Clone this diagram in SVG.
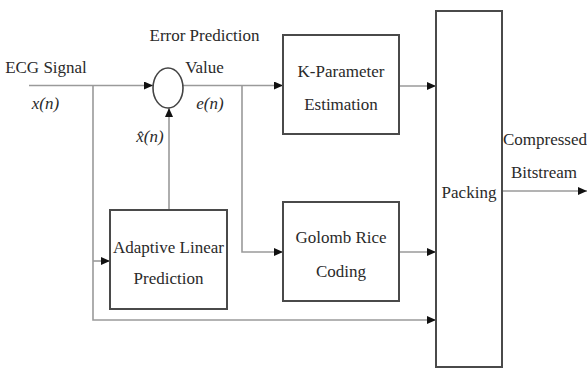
<svg xmlns="http://www.w3.org/2000/svg" width="587" height="369" viewBox="0 0 587 369">
<style>
.box{fill:#fff;stroke:#4a4a4a;stroke-width:2}
.ln{fill:none;stroke:#9a9a9a;stroke-width:1.6}
.t{font-family:'Liberation Serif','Times New Roman',serif;font-size:17px;fill:#2a2a2a;text-anchor:middle}
.i{font-style:italic}
</style>
<defs>
<marker id="ah" markerUnits="userSpaceOnUse" markerWidth="9" markerHeight="8" refX="9" refY="4" orient="auto">
<path d="M0,0 L9,4 L0,8 z" fill="#111"/>
</marker>
</defs>
<rect width="587" height="369" fill="#fff"/>
<g id="connectors">
<path class="ln" d="M29,85.5 H153" marker-end="url(#ah)"/>
<path class="ln" d="M93,85.5 V320 H436" marker-end="url(#ah)"/>
<path class="ln" d="M93,261 H110" marker-end="url(#ah)"/>
<path class="ln" d="M183,85.5 H283" marker-end="url(#ah)"/>
<path class="ln" d="M242,85.5 V252 H283" marker-end="url(#ah)"/>
<path class="ln" d="M169,210 V108" marker-end="url(#ah)"/>
<path class="ln" d="M399,86 H436" marker-end="url(#ah)"/>
<path class="ln" d="M399,252 H436" marker-end="url(#ah)"/>
<path class="ln" d="M502,191 H587" marker-end="url(#ah)"/>
</g>
<g id="labels">
<text class="t" x="46" y="73">ECG Signal</text>
<text class="t i" x="45.5" y="109">x(n)</text>
<text class="t" x="204.5" y="41">Error Prediction</text>
<text class="t" x="204.5" y="73">Value</text>
<text class="t i" x="210" y="109">e(n)</text>
<text class="t i" x="150" y="142">x̂(n)</text>
<text class="t" x="545" y="145">Compressed</text>
<text class="t" x="544" y="178">Bitstream</text>
</g>
<g id="sum">
<ellipse cx="168" cy="88" rx="15" ry="20" fill="#fff" stroke="#444" stroke-width="1.6"/>
</g>
<g id="kparam">
<rect class="box" x="283" y="35" width="116" height="99"/>
<text class="t" x="341" y="77">K-Parameter</text>
<text class="t" x="341" y="110">Estimation</text>
</g>
<g id="golomb">
<rect class="box" x="283" y="202" width="116" height="99"/>
<text class="t" x="341" y="243">Golomb Rice</text>
<text class="t" x="341" y="277">Coding</text>
</g>
<g id="alp">
<rect class="box" x="110" y="210" width="117" height="99"/>
<text class="t" x="168.5" y="253">Adaptive Linear</text>
<text class="t" x="168.5" y="284">Prediction</text>
</g>
<g id="packing">
<rect class="box" x="436" y="11" width="66" height="356"/>
<text class="t" x="469" y="198">Packing</text>
</g>
</svg>
